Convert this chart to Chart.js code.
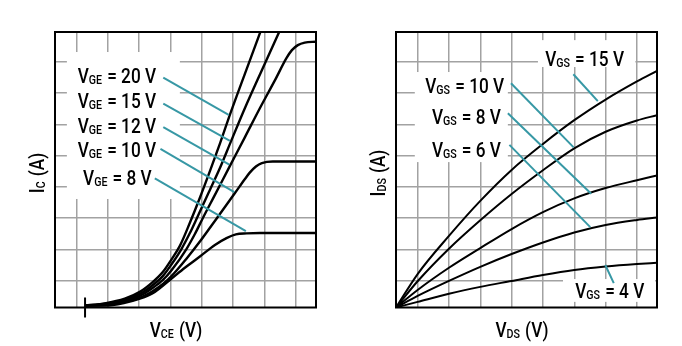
<!DOCTYPE html>
<html>
<head>
<meta charset="utf-8">
<script src="https://cdn.jsdelivr.net/npm/chart.js@4.4.0/dist/chart.umd.min.js"></script>
<style>
  body { margin: 0; background: #fff; }
  #wrap { display: flex; width: 682px; height: 346px; }
  canvas { display: block; }
</style>
</head>
<body>
<div id="wrap">
  <canvas id="igbtChart" width="341" height="346"></canvas>
  <canvas id="mosfetChart" width="341" height="346"></canvas>
</div>
<script>
// IGBT output characteristics, I_C vs V_CE, in grid divisions
const vge20 = [[0.27,-0.80],[0.90,-0.73],[1.54,-0.58],[2.02,-0.36],[2.44,-0.04],[2.76,0.28],[3.04,0.69],[3.30,1.11],[3.62,1.85],[3.94,2.65],[4.26,3.50],[4.58,4.38],[4.88,5.25],[5.38,6.62],[5.89,8.00]];
const vge15 = [[0.27,-0.80],[0.90,-0.74],[1.54,-0.62],[2.02,-0.43],[2.44,-0.14],[2.76,0.15],[3.04,0.53],[3.35,1.01],[3.62,1.52],[3.85,2.01],[4.26,2.90],[4.58,3.60],[4.92,4.42],[5.38,5.52],[5.92,6.73],[6.50,8.01]];
const vge12 = [[0.27,-0.80],[0.90,-0.76],[1.54,-0.65],[2.02,-0.49],[2.44,-0.23],[2.76,0.02],[3.04,0.34],[3.51,1.01],[3.78,1.49],[4.04,2.01],[4.42,2.74],[4.90,3.67],[5.38,4.59],[5.86,5.52],[6.34,6.41],[6.71,7.12],[6.88,7.37],[7.07,7.53],[7.29,7.61],[7.65,7.64]];
const vge10 = [[0.27,-0.80],[0.90,-0.78],[1.54,-0.68],[2.02,-0.55],[2.44,-0.33],[2.76,-0.11],[3.04,0.15],[3.51,0.70],[3.94,1.25],[4.47,1.98],[5.06,2.80],[5.38,3.25],[5.54,3.46],[5.73,3.65],[5.92,3.76],[6.27,3.81],[7.65,3.81]];
const vge8 = [[0.27,-0.80],[0.90,-0.80],[1.54,-0.71],[2.02,-0.58],[2.50,-0.36],[2.98,0.02],[3.46,0.41],[3.94,0.77],[4.42,1.14],[4.79,1.36],[5.09,1.48],[5.43,1.51],[5.86,1.52],[7.65,1.52]];

// MOSFET output characteristics, I_DS vs V_DS, sampled on the grid lines
const vdsGrid = [-0.69, 0, 1, 2, 3, 4, 5, 6, 7, 7.64];
const vgs15 = [-0.86, 0.21, 1.43, 2.55, 3.54, 4.37, 5.13, 5.79, 6.37, 6.71];
const vgs10 = [-0.86, -0.02, 1.02, 1.93, 2.77, 3.53, 4.23, 4.76, 5.12, 5.29];
const vgs8 = [-0.86, -0.30, 0.41, 1.04, 1.65, 2.19, 2.63, 2.96, 3.21, 3.36];
const vgs6 = [-0.86, -0.49, -0.01, 0.44, 0.85, 1.22, 1.54, 1.78, 1.94, 2.02];
const vgs4 = [-0.86, -0.68, -0.42, -0.20, -0.01, 0.18, 0.34, 0.45, 0.53, 0.57];

const gateIgbt = ['20', '15', '12', '10', '8'];
const gateMos = ['15', '10', '8', '6', '4'];
const gridLines = [0, 1, 2, 3, 4, 5, 6, 7];

const FONT = 'Roboto, "Liberation Sans", sans-serif';
const WEIGHT = '500';
const SQUEEZE = 0.82;      // condensed lettering
const TEAL = '#3798a5';

// draws "main" + subscript + "rest", x is anchored by align
function drawSubText(ctx, main, sub, rest, x, y, align, size) {
  const subSize = Math.round(size * 0.62);
  const big = WEIGHT + ' ' + size + 'px ' + FONT;
  const small = WEIGHT + ' ' + subSize + 'px ' + FONT;
  ctx.font = big;
  const w1 = ctx.measureText(main).width;
  const w3 = ctx.measureText(rest).width;
  ctx.font = small;
  const w2 = ctx.measureText(sub).width + 1;
  const total = (w1 + w2 + w3) * SQUEEZE;
  let start = x;
  if (align === 'right') start = x - total;
  if (align === 'center') start = x - total / 2;
  ctx.save();
  ctx.translate(start, y);
  ctx.scale(SQUEEZE, 1);
  ctx.fillStyle = '#000';
  ctx.textBaseline = 'alphabetic';
  ctx.textAlign = 'left';
  ctx.font = big;
  ctx.fillText(main, 0, 0);
  ctx.font = small;
  ctx.fillText(sub, w1, 1);
  ctx.font = big;
  ctx.fillText(rest, w1 + w2, 0);
  ctx.restore();
}

const panelDecor = {
  id: 'panelDecor',
  beforeDatasetsDraw(chart, args, opts) {
    const { ctx, scales: { x, y } } = chart;
    ctx.save();
    ctx.fillStyle = '#fff';
    opts.boxes.forEach(b => {
      const x0 = x.getPixelForValue(b[0]), x1 = x.getPixelForValue(b[1]);
      const y0 = y.getPixelForValue(b[2]), y1 = y.getPixelForValue(b[3]);
      ctx.fillRect(x0, y0, x1 - x0, y1 - y0);
    });
    ctx.restore();
  },
  afterDraw(chart, args, opts) {
    const { ctx, chartArea: a, scales: { x, y } } = chart;
    ctx.save();
    // frame
    ctx.strokeStyle = '#000';
    ctx.lineWidth = 2;
    ctx.strokeRect(a.left, a.top, a.right - a.left, a.bottom - a.top);

    // leader lines and gate voltage labels
    ctx.strokeStyle = TEAL;
    ctx.lineWidth = 2;
    opts.labels.forEach(l => {
      ctx.beginPath();
      ctx.moveTo(x.getPixelForValue(l.from[0]), y.getPixelForValue(l.from[1]));
      ctx.lineTo(x.getPixelForValue(l.to[0]), y.getPixelForValue(l.to[1]));
      ctx.stroke();
      drawSubText(ctx, 'V', opts.gate, ' = ' + l.text + ' V',
        x.getPixelForValue(l.at[0]), y.getPixelForValue(l.at[1]), l.align, 21);
    });

    // origin tick
    if (opts.tickAt !== undefined) {
      const tx = x.getPixelForValue(opts.tickAt);
      ctx.strokeStyle = '#000';
      ctx.lineWidth = 2;
      ctx.beginPath();
      ctx.moveTo(tx, a.bottom - 10);
      ctx.lineTo(tx, a.bottom + 10);
      ctx.stroke();
    }

    // axis titles
    const t = opts.titles;
    drawSubText(ctx, 'V', t.xSub, ' (V)', a.left + t.xCenter, a.bottom + 29, 'center', 21);
    ctx.save();
    ctx.translate(a.left - 11, a.top + 141);
    ctx.rotate(-Math.PI / 2);
    drawSubText(ctx, 'I', t.ySub, ' (A)', 0, 0, 'center', 21);
    ctx.restore();
    ctx.restore();
  }
};

function curve(points) {
  return {
    data: points.map(p => ({ x: p[0], y: p[1] })),
    borderColor: '#000',
    pointRadius: 0,
    fill: false,
    cubicInterpolationMode: 'monotone'
  };
}

function panelOptions(xMax, decor, lineWidth) {
  const grid = { color: '#a2a2a2', lineWidth: 1.5, drawTicks: false };
  const setTicks = s => { s.ticks = gridLines.map(v => ({ value: v })); };
  return {
    responsive: false,
    animation: false,
    devicePixelRatio: 1,
    layout: { padding: { left: 55, top: 32, right: 25, bottom: 38.5 } },
    elements: { line: { borderWidth: lineWidth } },
    scales: {
      x: { type: 'linear', min: -0.69, max: xMax, grid, border: { display: false },
           ticks: { display: false }, afterBuildTicks: setTicks },
      y: { type: 'linear', min: -0.86, max: 7.95, grid, border: { display: false },
           ticks: { display: false }, afterBuildTicks: setTicks }
    },
    plugins: { legend: { display: false }, tooltip: { enabled: false }, panelDecor: decor }
  };
}

// IGBT panel
new Chart(document.getElementById('igbtChart'), {
  type: 'line',
  data: { datasets: [vge20, vge15, vge12, vge10, vge8].map(curve) },
  options: panelOptions(7.65, {
    gate: 'GE',
    tickAt: vge20[0][0],
    boxes: [[-0.31, 3.30, 7.31, 2.61]],
    labels: [
      { text: gateIgbt[0], at: [2.54, 6.32], align: 'right', from: [2.77, 6.49], to: [4.86, 5.30] },
      { text: gateIgbt[1], at: [2.54, 5.52], align: 'right', from: [2.77, 5.66], to: [4.90, 4.47] },
      { text: gateIgbt[2], at: [2.54, 4.72], align: 'right', from: [2.77, 4.91], to: [4.88, 3.71] },
      { text: gateIgbt[3], at: [2.54, 3.94], align: 'right', from: [2.68, 4.21], to: [5.04, 2.83] },
      { text: gateIgbt[4], at: [2.40, 3.06], align: 'right', from: [2.50, 3.27], to: [5.41, 1.58] }
    ],
    titles: { xSub: 'CE', ySub: 'C', xCenter: 121 }
  }, 2.4),
  plugins: [panelDecor]
});

// MOSFET panel
const mosPoints = ys => vdsGrid.map((v, i) => [v, ys[i]]);
new Chart(document.getElementById('mosfetChart'), {
  type: 'line',
  data: { datasets: [vgs15, vgs10, vgs8, vgs6, vgs4].map(ys => curve(mosPoints(ys))) },
  options: panelOptions(7.64, {
    gate: 'GS',
    boxes: [[-0.09, 2.88, 6.67, 3.79], [3.84, 6.95, 7.69, 6.83], [4.64, 7.58, 0.05, -0.68]],
    labels: [
      { text: gateMos[0], at: [4.07, 6.86], align: 'left', from: [4.97, 6.60], to: [5.75, 5.74] },
      { text: gateMos[1], at: [2.76, 5.99], align: 'right', from: [2.98, 6.31], to: [4.98, 4.26] },
      { text: gateMos[2], at: [2.66, 5.00], align: 'right', from: [2.88, 5.35], to: [5.54, 2.78] },
      { text: gateMos[3], at: [2.66, 3.96], align: 'right', from: [2.93, 4.34], to: [5.51, 1.71] },
      { text: gateMos[4], at: [5.03, -0.55], align: 'left', from: [5.99, 0.50], to: [6.26, -0.08] }
    ],
    titles: { xSub: 'DS', ySub: 'DS', xCenter: 126 }
  }, 2),
  plugins: [panelDecor]
});
</script>
</body>
</html>
